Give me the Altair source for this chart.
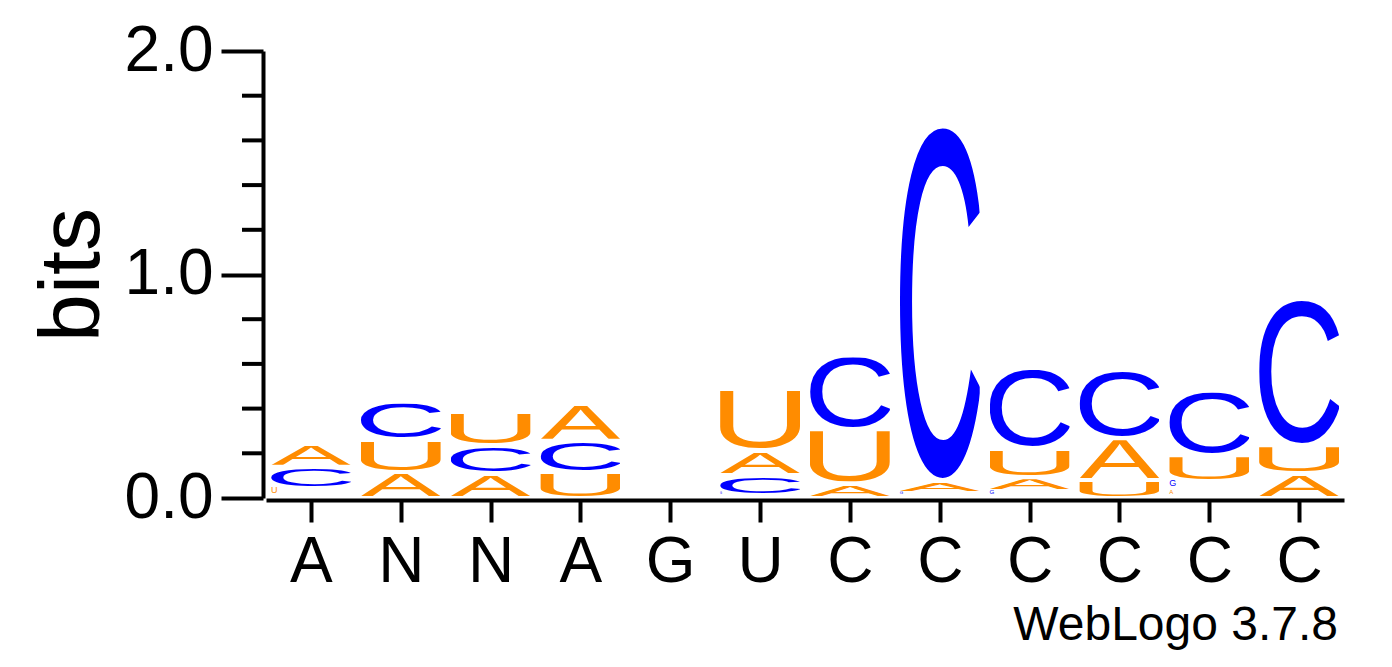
import base64

import altair as alt
import pandas as pd

# sequence logo, 12 positions; information (bits) carried by each base
positions = list(range(1, 13))
consensus = ["A", "N", "N", "A", "G", "U", "C", "C", "C", "C", "C", "C"]
bits_a = [0.105, 0.116, 0.109, 0.167, 0.0, 0.111, 0.065, 0.054, 0.062, 0.187, 0.030, 0.109]
bits_c = [0.095, 0.171, 0.125, 0.140, 0.0, 0.089, 0.330, 1.590, 0.361, 0.307, 0.290, 0.655]
bits_g = [0.0, 0.0, 0.0, 0.0, 0.0, 0.013, 0.0, 0.022, 0.031, 0.0, 0.045, 0.0]
bits_u = [0.045, 0.145, 0.154, 0.116, 0.0, 0.276, 0.243, 0.0, 0.129, 0.080, 0.116, 0.127]
minor_ticks = [0.2, 0.4, 0.6, 0.8, 1.2, 1.4, 1.6, 1.8]

FONT = "Liberation Sans"
ORANGE = "#FF8C00"
BLUE = "#0000FF"
letter_colors = {"A": ORANGE, "U": ORANGE, "C": BLUE, "G": BLUE}

# glyph bounding boxes in Liberation Sans (font-size 100, baseline at 0)
# so each letter is stretched to fill its box
glyph_box = {
    "A": (-0.2, -68.8, 67.0, 68.8),
    "C": (4.9, -70.0, 62.8, 71.2),
    "G": (4.4, -70.0, 66.2, 71.2),
    "U": (7.7, -68.8, 56.8, 70.0),
}


def glyph_url(letter):
    x0, y0, w, h = glyph_box[letter]
    svg = (
        f"<svg xmlns='http://www.w3.org/2000/svg' viewBox='{x0} {y0} {w} {h}' "
        f"preserveAspectRatio='none'><text x='0' y='0' font-family='{FONT}, Arial, sans-serif' "
        f"font-size='100' fill='{letter_colors[letter]}'>{letter}</text></svg>"
    )
    return "data:image/svg+xml;base64," + base64.b64encode(svg.encode()).decode()


rows = []
for letter, values in (("A", bits_a), ("C", bits_c), ("G", bits_g), ("U", bits_u)):
    for pos, b in zip(positions, values):
        if b > 0:
            rows.append({"pos": pos, "letter": letter, "bits": b, "url": glyph_url(letter)})
logo = pd.DataFrame(rows)

W, H = 1078, 447
x_scale = alt.Scale(domain=[0.5, 12.5], nice=False, zero=False)
y_scale = alt.Scale(domain=[0, 2], nice=False)
label_expr = "[" + ",".join(f"'{c}'" for c in consensus) + "][datum.value - 1]"

base = (
    alt.Chart(logo)
    .transform_stack(stack="bits", groupby=["pos"], as_=["y0", "y1"], sort=[alt.SortField("bits", order="ascending")])
    .transform_calculate(xl="datum.pos - 0.445", xr="datum.pos + 0.445")
)

glyphs = (
    base.transform_filter("datum.bits >= 0.05")
    .mark_image(aspect=False, yOffset=-2, y2Offset=2)
    .encode(
        x=alt.X(
            "xl:Q",
            scale=x_scale,
            axis=alt.Axis(
                values=positions,
                labelExpr=label_expr,
                title=None,
                grid=False,
                domainWidth=4,
                domainColor="black",
                tickWidth=4,
                tickSize=22,
                tickColor="black",
                labelFont=FONT,
                labelFontSize=64,
                labelColor="black",
                labelPadding=8,
                offset=2,
            ),
        ),
        x2="xr:Q",
        y=alt.Y(
            "y0:Q",
            scale=y_scale,
            axis=alt.Axis(
                values=[0, 1, 2],
                format=".1f",
                title="bits",
                titleFont=FONT,
                titleFontSize=86,
                titleFontWeight="normal",
                titleColor="black",
                titlePadding=8,
                grid=False,
                domainWidth=4,
                domainColor="black",
                tickWidth=4,
                tickSize=42,
                tickColor="black",
                labelFont=FONT,
                labelFontSize=64,
                labelColor="black",
                labelPadding=8,
                offset=3,
            ),
        ),
        y2="y1:Q",
        url="url:N",
    )
)

tiny = (
    base.transform_filter("datum.bits < 0.05")
    .mark_text(align="left", baseline="bottom", font=FONT, dy=-3)
    .encode(
        x=alt.X("xl:Q", scale=x_scale),
        y=alt.Y("y0:Q", scale=y_scale),
        text="letter:N",
        size=alt.Size("bits:Q", scale=alt.Scale(domain=[0, 0.05], range=[0, 10]), legend=None),
        color=alt.Color(
            "letter:N",
            scale=alt.Scale(domain=list(letter_colors), range=list(letter_colors.values())),
            legend=None,
        ),
    )
)

minor = (
    alt.Chart(pd.DataFrame({"v": minor_ticks}))
    .mark_rule(color="black", strokeWidth=4)
    .encode(y=alt.Y("v:Q", scale=y_scale), x=alt.value(-24), x2=alt.value(-3))
)

credit = (
    alt.Chart(pd.DataFrame({"t": ["WebLogo 3.7.8"]}))
    .mark_text(align="right", baseline="alphabetic", font=FONT, fontSize=48, color="black")
    .encode(text="t:N", x=alt.value(W - 6), y=alt.value(H + 142))
)

chart = (
    alt.layer(glyphs, tiny, minor, credit)
    .properties(
        width=W,
        height=H,
        autosize=alt.AutoSizeParams(type="none"),
        padding={"left": 258, "top": 43, "right": 40, "bottom": 161},
    )
    .configure_view(stroke=None)
)

chart.save("out.html", embed_options={"renderer": "svg", "actions": False})
